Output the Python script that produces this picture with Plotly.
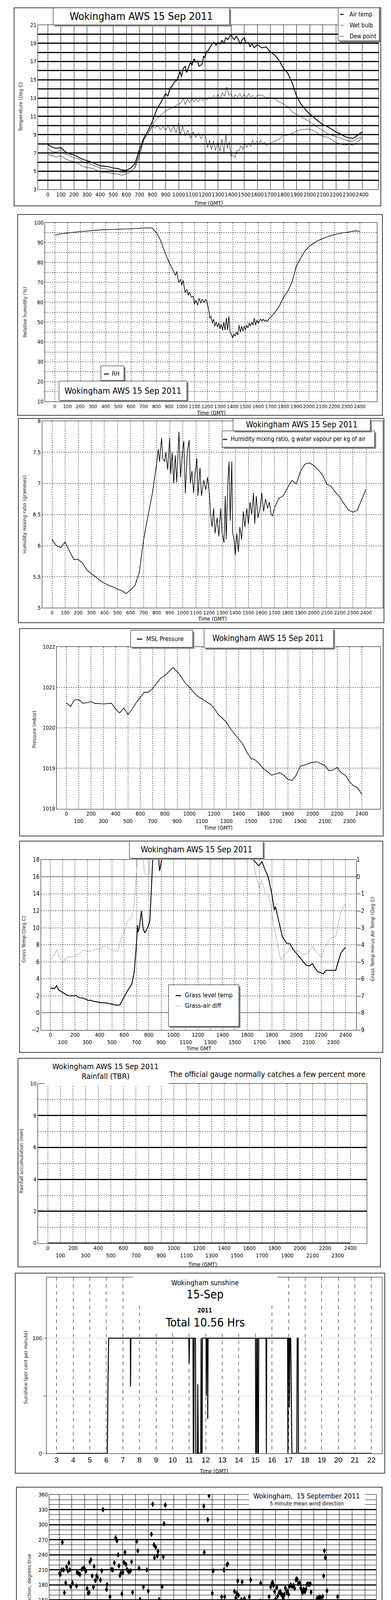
import subprocess
import plotly.graph_objects as go

W, H = 1000, 5000


def _families():
    try:
        return subprocess.run(["fc-list", ":", "family"], capture_output=True, text=True, timeout=20).stdout.lower()
    except Exception:
        return ""


_fams = _families()
NARROW, NSCALE = "Liberation Sans", 0.86
for cand in ["Liberation Sans Narrow", "Arial Narrow", "DejaVu Sans Condensed", "Roboto Condensed", "Open Sans Condensed"]:
    if cand.lower() in _fams:
        NARROW, NSCALE = cand, 1.0
        break
SANS = "Liberation Sans, Arial, sans-serif"
WIDE = "DejaVu Sans, Verdana, sans-serif"


def fs(size):
    return max(8, round(size * NSCALE))


# ------------------------------------------------------------------ data
# 20-minute readings (hour = index/3)
air_temp = [7.9,7.65,7.5,7.6,7.15,6.9,6.8,6.55,6.3,6.15,6.0,5.8,5.6,5.55,5.5,5.35,5.3,5.15,5.1,5.35,
            5.85,7.4,8.6,9.45,10.5,11.8,12.6,13.5,14.1,14.7,15.5,16.2,16.1,16.8,17.0,16.6,17.4,18.4,18.9,18.85,
            19.2,19.55,19.9,19.4,19.1,19.5,18.9,18.85,18.85,18.5,18.6,18.05,17.7,17.1,16.25,15.7,14.65,13.2,12.35,11.75,
            11.25,10.9,10.45,10.1,9.9,9.6,9.3,9.1,8.8,8.65,8.6,8.95,9.3]
wet_bulb = [7.5,7.15,7.1,7.35,6.9,6.7,6.5,6.35,6.05,5.9,5.75,5.55,5.35,5.3,5.2,5.05,5.0,4.85,4.9,5.05,
            5.5,7.0,8.45,9.15,10.1,10.75,11.2,11.6,11.85,12.05,12.35,12.7,12.6,12.9,12.75,12.7,12.9,13.05,13.15,13.2,
            13.35,13.55,13.2,13.3,13.2,13.2,13.3,13.15,13.3,13.35,13.05,13.05,12.9,12.6,12.35,12.05,11.5,11.2,10.95,10.7,
            10.4,10.1,9.75,9.45,9.15,8.95,8.8,8.65,8.45,8.3,8.3,8.6,8.75]
dew_point = [6.85,6.7,6.55,6.7,6.4,6.15,6.05,5.85,5.55,5.4,5.35,5.15,4.9,4.9,4.85,4.75,4.7,4.55,4.7,4.9,
             5.35,6.7,8.45,9.15,9.95,9.8,9.6,9.9,9.55,9.75,9.45,9.75,9.15,9.15,9.0,8.9,8.75,7.85,7.7,7.85,
             7.6,8.0,6.85,7.15,7.6,7.7,7.85,7.85,8.0,8.15,7.85,8.1,8.3,8.5,8.95,8.95,9.15,9.4,9.55,9.6,
             9.6,9.4,9.1,8.8,8.75,8.45,8.15,8.0,7.85,7.95,7.85,8.3,8.6]
# finer readings in the noisy middle of the day
air_temp_detail = [(9.17,13.2),(9.33,14.1),(9.5,14.3),(9.67,14.8),(9.83,14.9),(10.0,15.5),(10.1,15.9),(10.2,15.3),
                   (10.33,16.2),(10.5,16.5),(10.6,15.8),(10.75,16.4),(10.9,16.9),(11.0,16.6),(11.17,17.3),(11.3,16.9),
                   (11.42,17.1),(11.55,16.5),(11.7,16.6),(11.8,16.8),(11.9,17.6),(12.0,17.4),(12.1,18.1),(12.25,18.2),
                   (12.4,18.6),(12.55,18.9),(12.7,19.1),(12.85,18.8),(13.0,19.1),(13.15,18.9),(13.3,19.3),(13.45,19.0),
                   (13.6,19.6),(13.75,19.4),(13.9,19.8),(14.0,20.0),(14.1,19.6),(14.25,19.4),(14.4,19.8),(14.55,19.4),
                   (14.7,18.9),(14.85,19.4),(15.0,19.6),(15.15,19.0),(15.3,19.1),(15.45,18.6),(15.6,19.0),(15.75,18.5),
                   (15.9,18.7)]
wet_bulb_detail = [(10.17,12.5),(10.33,13.0),(10.5,12.3),(10.67,12.9),(10.83,12.5),(11.0,13.0),(11.17,12.6),(11.33,12.9),
                   (11.5,12.6),(11.67,13.0),(11.83,12.7),(12.0,12.95),(12.17,12.8),(12.33,13.1),(12.5,12.9),(12.67,13.3),
                   (12.83,13.0),(13.0,13.4),(13.17,12.9),(13.33,13.6),(13.5,13.2),(13.67,14.2),(13.83,13.3),(14.0,13.5),
                   (14.17,12.9),(14.33,13.4),(14.5,13.1),(14.67,13.5),(14.83,13.1),(15.0,13.4),(15.17,13.0),(15.33,13.5),
                   (15.5,13.1),(15.67,13.3),(15.83,13.0)]
dew_point_detail = [(8.2,9.7),(8.4,10.0),(8.6,9.55),(8.8,9.9),(9.0,9.5),(9.2,10.0),(9.4,9.3),(9.6,9.9),(9.8,9.2),
                    (10.0,10.3),(10.1,9.0),(10.3,9.9),(10.5,8.9),(10.7,9.5),(10.9,8.6),(11.1,9.3),(11.3,8.7),(11.5,9.2),
                    (11.7,8.6),(11.9,9.1),(12.1,8.6),(12.2,7.6),(12.35,8.4),(12.5,7.4),(12.65,8.3),(12.8,7.3),(13.0,8.2),
                    (13.15,7.2),(13.3,8.5),(13.45,7.0),(13.6,9.0),(13.7,7.5),(13.85,8.2),(14.0,6.6),(14.15,6.8),(14.3,6.5),
                    (14.45,7.3),(14.6,7.2),(14.75,7.8),(14.9,7.4),(15.05,8.0),(15.2,7.6),(15.35,8.1),(15.5,7.7),(15.65,8.4),
                    (15.8,7.9),(15.95,8.3),(16.1,7.9),(16.25,8.4),(16.4,8.0),(16.55,8.2),(16.7,7.8),(16.85,8.0)]
rel_humidity = [93.6,94.2,94.5,94.8,95.0,95.3,95.5,95.7,95.9,96.1,96.2,96.4,96.5,96.5,96.6,96.7,96.7,96.8,96.9,97.0,
                97.1,97.2,97.4,97.3,95.0,91.0,85.0,80.0,75.5,71.0,69.0,65.5,63.0,59.5,60.5,61.0,59.0,51.0,50.0,48.5,
                47.0,48.5,43.0,44.0,46.5,46.0,48.5,48.0,49.5,51.0,50.5,52.5,55.0,58.0,62.5,65.5,70.0,78.0,82.0,85.5,
                88.0,89.5,90.8,91.8,92.6,93.4,94.0,94.5,94.9,95.2,95.5,95.9,95.6]
rel_humidity_detail = [(9.33,75.5),(9.5,73.5),(9.6,75.5),(9.75,70),(9.9,71.5),(10.0,68.5),(10.1,71),(10.25,65),(10.4,66.5),
                       (10.5,63.5),(10.6,65),(10.75,62.5),(10.9,63),(11.0,59),(11.1,61),(11.25,58.5),(11.35,62),(11.5,59.5),
                       (11.6,61.5),(11.75,60),(11.9,61.5),(12.0,59),(12.1,57),(12.2,52),(12.3,53),(12.4,49.5),(12.5,51.5),
                       (12.6,48),(12.7,50),(12.8,47.5),(12.9,49.5),(13.0,46.5),(13.1,49),(13.2,46),(13.3,50),(13.4,46),
                       (13.5,52),(13.6,46),(13.7,53),(13.8,45),(13.9,44),(14.0,42),(14.1,44),(14.2,43),(14.3,45),(14.4,43.5),
                       (14.5,48.5),(14.6,45),(14.7,48),(14.8,45.5),(14.9,48),(15.0,46),(15.1,48.5),(15.2,47),(15.3,49.5),
                       (15.4,48),(15.5,50),(15.6,48.5),(15.7,52),(15.8,48.5),(15.9,51),(16.0,49.5),(16.1,50.5),(16.2,51.5),
                       (16.3,50.5),(16.4,51.5),(16.5,50.5),(16.6,51),(16.7,50.3),(16.8,51),(16.9,52)]
mixing_ratio = [6.10,6.0,5.97,6.06,5.91,5.78,5.78,5.72,5.61,5.55,5.50,5.44,5.40,5.36,5.34,5.30,5.28,5.23,5.29,5.36,
                5.57,6.10,6.48,6.84,7.33,7.50,7.37,7.52,7.20,7.48,7.12,7.52,7.05,7.22,6.95,7.12,6.99,6.48,6.31,6.48,
                6.18,6.74,5.97,6.14,6.42,6.52,6.61,6.48,6.74,6.63,6.78,6.61,6.76,6.80,6.93,7.05,6.99,7.20,7.31,7.33,
                7.29,7.22,7.14,6.99,6.95,6.86,6.78,6.67,6.57,6.54,6.57,6.74,6.91]
mixing_ratio_detail = [(8.12,7.55),(8.22,7.35),(8.37,7.73),(8.47,7.4),(8.6,7.35),(8.7,7.5),(8.84,7.22),(8.99,7.73),
                       (9.07,7.15),(9.18,7.5),(9.3,7.0),(9.42,7.45),(9.53,7.02),(9.7,7.83),(9.82,7.1),(9.96,7.5),
                       (10.07,7.68),(10.19,6.84),(10.34,7.5),(10.48,7.7),(10.57,7.0),(10.69,7.2),(10.82,6.85),(10.92,7.15),
                       (11.07,7.4),(11.15,6.8),(11.31,7.25),(11.42,6.8),(11.6,7.05),(11.75,6.9),(11.89,7.1),(12.04,6.8),
                       (12.12,6.5),(12.23,6.3),(12.35,6.6),(12.46,6.2),(12.62,6.45),(12.75,6.15),(12.89,6.6),(13.0,6.2),
                       (13.14,6.05),(13.24,6.8),(13.31,6.1),(13.43,7.0),(13.53,7.35),(13.62,6.4),(13.74,7.35),(13.81,6.2),
                       (13.91,6.1),(14.0,5.85),(14.12,6.2),(14.24,5.9),(14.35,6.3),(14.49,6.1),(14.62,6.55),(14.74,6.3),
                       (14.88,6.6),(15.01,6.35),(15.13,6.7),(15.26,6.5),(15.4,6.85),(15.49,6.35),(15.61,6.8),(15.74,6.45),
                       (15.9,6.6),(16.03,6.85),(16.17,6.55),(16.32,6.75),(16.48,6.6),(16.61,6.7),(16.75,6.5),(16.86,6.48),
                       (16.98,6.6)]
msl_pressure = [1020.62,1020.53,1020.69,1020.70,1020.61,1020.62,1020.65,1020.60,1020.60,1020.59,1020.60,1020.61,1020.46,1020.37,1020.49,1020.33,1020.46,1020.62,1020.75,1020.88,
                1020.88,1020.97,1021.10,1021.23,1021.29,1021.39,1021.49,1021.39,1021.26,1021.10,1021.01,1020.88,1020.78,1020.72,1020.65,1020.59,1020.49,1020.33,1020.24,1020.14,
                1019.98,1019.85,1019.72,1019.60,1019.40,1019.24,1019.21,1019.12,1018.99,1018.92,1018.83,1018.86,1018.89,1018.83,1018.73,1018.70,1018.83,1019.05,1019.08,1019.12,
                1019.15,1019.16,1019.12,1019.07,1018.94,1018.96,1019.02,1018.89,1018.83,1018.67,1018.57,1018.52,1018.36]

grass_hour = [0,0.2,0.33,0.5,0.67,0.9,1.1,1.33,1.6,1.9,2.1,2.3,2.6,2.9,3.1,3.3,3.5,3.8,4.0,4.3,4.6,4.9,5.2,5.5,5.65,
              6.0,6.35,6.62,6.82,6.99,7.08,7.13,7.23,7.4,7.54,7.68,7.95,8.09,8.2,8.35,8.6,8.8,8.87,8.95,9.08,9.5,10,11,12,13,
              14,15,16,16.5,16.8,16.97,17.2,17.4,17.7,18.0,18.2,18.3,18.45,18.7,18.85,19.2,19.5,19.7,20.0,20.3,20.55,20.8,21.06,21.3,21.5,
              21.7,22.0,22.2,22.4,22.6,23.0,23.2,23.4,23.6,23.8,24.0]
grass_temp = [2.9,2.9,2.85,3.2,2.7,2.5,2.3,2.1,2.0,2.0,2.05,1.8,1.75,1.6,1.45,1.5,1.35,1.3,1.2,1.2,1.15,1.05,0.95,0.9,0.95,
              1.9,2.8,3.4,4.9,8.0,10.3,9.5,10.0,12.0,9.9,9.4,10.2,10.9,14.5,19.0,19.5,18.2,16.7,17.2,18.5,21,22.5,24,25,25,
              24,22,19.5,18.0,17.5,17.3,17.8,17.0,16.0,14.0,12.1,12.5,11.5,10.0,9.0,8.2,8.1,7.5,7.0,6.5,6.0,5.6,5.5,5.8,5.3,
              4.9,4.7,4.6,5.0,5.0,5.0,5.0,6.0,7.0,7.4,7.7]
diff_hour = [0,0.27,0.53,0.68,0.88,1.02,1.19,1.5,1.91,2.32,2.73,3.14,3.55,3.95,4.36,4.77,5.18,5.49,5.7,6.0,
             6.31,6.62,6.82,6.99,7.07,7.34,7.54,7.64,7.81,8.01,8.11,8.5,10,12,14,16,16.52,16.66,16.97,17.17,
             17.48,17.79,17.99,18.2,18.4,18.61,18.77,19.02,19.32,19.53,19.94,20.25,20.55,20.96,21.33,21.58,22.03,22.19,22.5,22.81,
             23.22,23.42,23.63,24.0]
grass_air_diff = [-4.9,-4.65,-4.28,-4.57,-4.9,-5.1,-4.82,-4.7,-4.7,-4.53,-4.32,-4.4,-4.28,-4.24,-4.07,-4.24,-4.32,-4.4,-3.74,-3.24,
                  -2.57,-2.4,-1.58,0.09,1.0,1.5,1.0,0.25,0.09,0.17,1.0,2.5,5,5.5,5,3,1.0,0.25,-0.66,-0.25,
                  -0.91,-1.24,-2.08,-3.07,-3.65,-4.57,-4.9,-4.57,-4.4,-4.07,-4.32,-4.4,-4.57,-4.49,-4.07,-4.4,-4.74,-4.4,-3.9,-3.57,
                  -3.49,-2.66,-2.08,-1.5]

rain_hour = [0, 6, 12, 18, 24]
rain_mm = [0, 0, 0, 0, 0]

sunshine_points = [(3,0),(6.06,0),(6.1,60),(6.14,100),(7.45,100),(7.46,58),(7.48,100),(10.98,100),(11.0,78),(11.02,100),
                   (11.23,100),(11.25,0),(11.28,0),(11.3,100),(11.38,100),(11.4,0),(11.5,0),(11.52,60),(11.55,0),(11.7,0),
                   (11.72,100),(11.75,0),(11.78,0),(11.8,100),(12.02,100),(12.03,50),(12.05,100),(12.1,100),(12.12,30),(12.14,100),
                   (15.0,100),(15.02,0),(15.06,0),(15.08,100),(15.12,100),(15.14,0),(15.18,0),(15.2,100),(15.64,100),(15.66,0),
                   (15.68,100),(16.94,100),(16.96,0),(16.98,100),(17.03,100),(17.05,40),(17.08,100),(17.13,100),(17.2,0),(17.5,0),
                   (17.52,100),(17.58,100),(17.6,0),(22,0)]

wind_dir_points = [
    (0.04,203),(0.10,201),(0.20,210),(0.26,265),(0.36,210),(0.42,164.5),(0.52,184),(0.59,216),(0.69,208),(0.77,224),
    (0.85,210),(0.91,177),(1.05,184),(1.07,138),(1.17,84),(1.27,101),(1.37,178),(1.41,205),(1.53,203),(1.64,201),
    (1.78,211),(1.90,213),(1.98,213),(2.10,207),(2.20,173),(2.28,163.7),(2.36,165),(2.42,226),(2.50,230),(2.60,198),
    (2.70,175.6),(2.75,217),(2.85,189),(2.95,198),(3.01,195),(3.09,144.8),(3.19,105),(3.25,189.6),(3.35,208),(3.45,330),
    (3.51,48),(3.59,65),(3.73,171),(3.77,180.8),(3.84,85.4),(3.94,67.6),(4.00,156.4),(4.12,211),(4.22,210),(4.34,224),
    (4.44,274),(4.54,268),(4.64,240),(4.70,218),(4.78,199),(4.86,204),(4.93,162.4),(5.01,205),(5.09,225),(5.17,245),
    (5.25,221),(5.33,211),(5.43,207),(5.51,207),(5.61,208),(5.69,226),(5.77,165.2),(5.85,55.6),(5.91,75.3),(6.02,1.2),
    (6.10,267),(6.18,248),(6.28,213),(6.36,151),(6.42,122.7),(6.52,93),(6.62,175.9),(6.78,145),(6.88,210),(7.00,167.8),
    (7.09,133.9),(7.17,36.5),(7.25,281),(7.35,341),(7.45,260),(7.49,234),(7.59,255),(7.71,238),(7.77,247),(7.85,150.7),
    (7.97,93.5),(8.01,115),(8.09,177),(8.18,236),(8.24,302),(8.34,339),(8.46,7),(8.52,55.6),(8.60,101),(8.70,12),
    (8.78,58.8),(8.84,14),(8.96,91),(9.06,18),(9.12,40),(9.20,85.4),(9.25,34),(9.33,8.5),(9.45,19.4),(9.54,86.7),
    (9.61,75.9),(9.69,53),(9.76,60.6),(9.85,16.8),(9.93,126.6),(10.01,23.8),(10.09,74.6),(10.19,108.8),(10.27,3.8),(10.34,130),
    (10.42,146),(10.52,5.4),(10.60,21.2),(10.70,44.5),(10.76,25.9),(10.84,37.3),(10.90,31),(11.00,27.2),(11.10,46),(11.20,117.6),
    (11.28,77.2),(11.36,337),(11.40,245),(11.51,47.9),(11.61,40),(11.67,310),(11.77,358),(11.87,23),(11.93,109.8),(12.03,163.4),
    (12.10,208),(12.17,45.3),(12.29,107),(12.37,85),(12.45,61.4),(12.50,114.7),(12.60,98.7),(12.68,131.6),(12.76,156.4),(12.86,138.3),
    (12.94,210),(13.00,156.4),(13.08,37.5),(13.18,220),(13.24,222),(13.36,120),(13.46,108),(13.52,114),(13.60,81.6),(13.69,59.3),
    (13.77,167),(13.87,154.6),(13.95,163),(14.03,188),(14.09,159.5),(14.19,131.8),(14.31,151),(14.37,186),(14.45,138.3),(14.55,152.5),
    (14.63,144.8),(14.70,137.3),(14.78,106.4),(14.84,146.3),(14.94,156.4),(15.04,190),(15.10,127),(15.20,122.7),(15.28,110),(15.38,112.4),
    (15.42,116.5),(15.52,101),(15.62,115.8),(15.74,119.4),(15.80,147.9),(15.83,183.6),(15.95,125.3),(16.07,123),(16.13,130),(16.19,124.3),
    (16.29,113),(16.39,114.7),(16.49,156.7),(16.61,176),(16.71,183.4),(16.77,185),(16.84,179),(16.92,166.8),(17.00,151.5),(17.10,174.6),
    (17.16,157.7),(17.28,164.7),(17.36,166.8),(17.44,160.8),(17.52,160.3),(17.60,153),(17.68,161),(17.76,174),(17.86,166.3),(17.94,167.8),
    (18.01,161),(18.09,177),(18.19,180),(18.29,177),(18.41,179),(18.49,173),(18.59,190),(18.65,192),(18.69,191),(18.79,182.6),
    (18.89,184),(18.97,174),(19.04,169.4),(19.12,164.5),(19.20,171.5),(19.30,166.3),(19.38,171.5),(19.46,181),(19.54,182),(19.64,181),
    (19.72,182.3),(19.78,165.5),(19.86,136.7),(19.94,108.8),(20.02,126),(20.12,135),(20.20,148.7),(20.27,153.8),(20.35,150.5),(20.43,156),
    (20.51,155),(20.59,148.4),(20.69,157),(20.77,198),(20.83,248),(20.90,234),(21.03,168.3),(21.11,136.2),(21.19,126.6),(21.28,139.3),
    (21.36,137.8),(21.44,134.7),(21.52,130),(21.60,132),(21.68,137.8),(21.78,134),(21.86,156.7),(21.92,109.8),(22.02,98.7),(22.10,52.3),
    (22.18,45),(22.26,65),(22.36,105),(22.44,122.2),(22.51,133.6),(22.59,108.8),(22.69,96.8),(22.79,86.7),(22.87,88),(22.95,85.4),
    (23.03,80.8),(23.11,92),(23.19,97),(23.27,86),(23.35,80.8),(23.42,76.1),(23.50,83.4),(23.58,86),(23.66,79.7),(23.74,87.3),
    (23.82,89),(23.90,89.8)]

# wind speed lines, 15-minute readings (hour = index/4)
wind_mean = [8.4,0.6,0.9,1.3,1.5,1.0,1.2,1.5,1.6,1.0,0.6,0.5,0.6,0.8,0.6,0.4,0.7,0.9,1.0,0.9,
             1.1,1.2,1.9,1.4,0.3,0.6,0.8,0.5,0.2,0.7,0.9,0.5,0.3,0.5,1.1,1.4,1.6,0.9,2.2,1.5,
             2.6,1.4,1.0,2.8,1.2,3.0,0.6,2.5,1.0,3.0,3.5,1.5,3.2,2.5,1.8,3.8,2.5,4.0,3.2,3.5,
             4.8,3.5,4.2,3.3,4.0,5.0,3.4,4.4,3.8,3.2,2.5,3.0,3.6,3.3,3.0,2.6,2.5,2.9,2.5,1.6,
             1.5,2.5,3.5,2.8,0.5,0.4,1.5,2.4,1.5,2.3,2.9,2.5,2.6,3.0,3.2,2.8,2.6]
wind_gust = [2.0,1.5,1.5,2.0,1.6,1.5,2.2,2.6,3.3,1.8,1.0,1.0,1.3,1.5,1.2,1.0,1.6,1.3,1.6,1.4,
             1.6,2.0,3.8,2.0,0.8,1.6,1.8,1.2,0.8,2.0,2.0,1.2,1.0,2.0,4.0,3.0,4.8,3.0,5.5,3.2,
             5.8,3.0,4.5,6.0,3.0,6.5,3.5,6.5,3.0,7.5,5.0,8.0,4.0,8.5,5.0,9.5,6.0,9.0,5.5,8.0,
             9.8,6.0,8.0,5.0,8.5,6.0,9.0,6.0,9.0,5.0,4.0,5.0,4.5,4.0,4.2,3.5,3.0,3.5,3.0,2.2,
             2.0,3.0,4.0,3.3,1.0,1.0,3.0,4.5,2.5,4.0,4.2,3.0,4.5,5.5,4.2,5.0,3.0]
wind_x10_points = [
    (0.12,33.6),(0.15,25.1),(0.17,16.7),(0.2,15),(0.25,13.3),(0.29,11.2),(0.33,9.5),(0.37,7.4),(0.41,6.3),(0.5,7.8),
    (0.58,10.8),(0.64,11.6),(0.7,12.4),(0.77,13.7),(0.83,15.2),(0.91,17.1),(0.97,15.6),(1.02,13.3),(1.08,11.6),(1.16,9.9),
    (1.22,8.2),(1.29,7.2),(1.41,6.5),(1.47,8.6),(1.53,13.3),(1.58,17.5),(1.64,18.4),(1.7,17.1),(1.8,15.8),(1.89,15.6),
    (1.99,15.2),(2.09,19.2),(2.12,22.6),(2.18,20.9),(2.22,18.8),(2.26,13.7),(2.3,11.6),(2.36,9.9),(2.43,9.5),(2.51,7.4),
    (2.61,6.1),(2.7,5.3),(2.8,6.1),(2.92,6.5),(3.01,7.2),(3.11,8.2),(3.19,9.5),(3.24,10.3),(3.32,8.2),(3.38,6.1),
    (3.44,4.9),(3.5,3.2),(3.55,2.3),(3.61,4.0),(3.69,5.7),(3.77,7.8),(3.84,9.9),(3.92,11.6),(4.02,13.3),(4.07,11.6),
    (4.15,9.5),(4.23,8.2),(4.31,9.1),(4.4,9.5),(4.5,6.5),(4.6,9.1),(4.69,10.8),(4.79,10.3),(4.89,11.6),(4.98,9.9),
    (5.08,8.2),(5.17,11.2),(5.27,12.9),(5.37,15),(5.45,18.8),(5.5,21.7),(5.56,24.3),(5.62,20.5),(5.68,16.7),(5.74,12.4),
    (5.81,9.1),(5.89,6.1),(5.99,3.6),(6.08,1.5),(6.18,9.1),(6.28,11.2),(6.35,9.5),(6.43,6.5),(6.53,4.9),(6.62,4.0),
    (6.72,5.3),(6.82,3.6),(6.91,2.3),(7.01,8.2),(7.11,5.7),(7.2,3.2),(7.3,1.9),(7.4,4.0),(7.49,6.1),(7.59,9.1),
    (7.69,12.4),(7.74,11.2),(7.82,7.0),(7.9,4.9),(7.98,3.2),(8.07,3.6),(8.17,4.0),(8.27,6.5),(8.36,9.1),(8.46,11.6),
    (8.56,14.1),(8.63,18.4),(8.71,20.5),(8.79,22.6),(8.86,18.4),(8.94,13.3),(9.02,9.1),(9.1,15),(9.17,19.6),(9.25,24.3),
    (9.33,20.9),(9.41,15),(9.48,21.7),(9.56,23),(9.64,25.5),(9.71,25.9),(9.79,22.6),(9.87,19.6),(9.95,16.7),(10.02,11.6),
    (10.1,8.6),(10.18,14.1),(10.25,18.8),(10.33,22.6),(10.41,20.9),(10.49,15.8),(10.56,6.5),(10.64,13.3),(10.72,20.9),(10.8,23.4),
    (10.87,27.2),(10.95,32.3),(11.03,36.5),(11.1,28.5),(11.18,24.7),(11.26,19.6),(11.34,13.3),(11.41,8.2),(11.49,17.9),(11.57,22.6),
    (11.65,25.9),(11.72,31),(11.8,20.9),(11.88,17.5),(11.95,15.4),(12.03,11.6),(12.11,17.5),(12.19,31.9),(12.26,27.2),(12.34,23.4),
    (12.42,31),(12.5,34.8),(12.57,25.9),(12.65,35.2),(12.73,20.9),(12.8,28.1),(12.88,15),(12.96,32.3),(13.04,24.7),(13.11,13.3),
    (13.19,28.9),(13.27,21.7),(13.34,34),(13.42,25.1),(13.5,32.3),(13.58,36.9),(13.65,27.6),(13.73,31),(13.81,34.8),(13.89,24.7),
    (13.96,38.2),(14.06,33.5),(14.16,36.1),(14.25,28.5),(14.35,37.3),(14.45,38.8),(14.54,34),(14.64,35.7),(14.73,32.3),(14.83,35.2),
    (14.93,37.8),(15.02,33.1),(15.12,36.1),(15.22,39),(15.31,37.3),(15.41,35.2),(15.51,39.2),(15.6,36.9),(15.7,36.1),(15.8,34.8),
    (15.89,36.9),(15.99,27.2),(16.05,32.3),(16.13,39),(16.24,36.1),(16.38,34.4),(16.51,35.2),(16.61,37.3),(16.71,38.8),(16.86,39),
    (16.98,37.3),(17.11,39.4),(17.25,39),(17.34,35.7),(17.4,31.9),(17.48,27.6),(17.55,25.9),(17.61,23.8),(17.69,26.4),(17.77,21.3),
    (17.82,18.8),(17.9,27.6),(17.98,32.3),(18.06,29.3),(18.13,26.8),(18.21,23.8),(18.29,39.4),(18.37,37.3),(18.44,35.2),(18.52,33.5),
    (18.6,35.2),(18.67,30.2),(18.75,28.1),(18.83,27.2),(18.91,26.4),(18.98,27.6),(19.06,25.1),(19.14,23.8),(19.22,25.9),(19.29,28.1),
    (19.37,32.7),(19.45,31.4),(19.53,30.2),(19.6,26.8),(19.68,22.6),(19.76,19.6),(19.84,17.5),(19.91,16.2),(19.99,15.8),(20.07,16.7),
    (20.14,20),(20.22,25.9),(20.3,32.3),(20.38,35.2),(20.45,37.3),(20.53,38.2),(20.61,36.1),(20.68,33.1),(20.74,27.2),(20.78,22.2),
    (20.82,19.2),(20.86,14.1),(20.9,9.9),(20.93,5.7),(20.97,4.9),(21.03,5.7),(21.1,9.1),(21.16,13.3),(21.22,17.5),(21.28,21.7),
    (21.34,26.8),(21.4,31),(21.46,32.7),(21.52,31.4),(21.58,29.3),(21.63,26.8),(21.69,23.8),(21.75,21.7),(21.8,19.2),(21.86,15),
    (21.92,12),(22.0,10.8),(22.07,15.4),(22.15,20),(22.22,24.7),(22.3,28.9),(22.38,23),(22.46,19.6),(22.54,16.7),(22.61,20.5),
    (22.69,25.1),(22.77,27.6),(22.85,28.1),(22.92,25.9),(23.0,22.6),(23.08,25.9),(23.15,28.9),(23.23,30.2),(23.31,33.5),(23.38,35.2),
    (23.46,36.1),(23.54,34.4),(23.62,32.3),(23.69,31),(23.77,28.1),(23.85,26.4),(23.93,25.1),(24.0,25.9)]

HOURS = list(range(25))
t20 = [i / 3 for i in range(len(air_temp))]
t15 = [i / 4 for i in range(len(wind_mean))]


def merged(base, lo, hi, detail):
    """20-minute readings outside (lo, hi) plus the finer readings inside it."""
    pts = [(t, v) for t, v in zip(t20, base) if not (lo < t < hi)] + list(detail)
    pts.sort()
    return [p[0] for p in pts], [p[1] for p in pts]


air_x, air_y = merged(air_temp, 9.0, 16.0, air_temp_detail)
wet_x, wet_y = merged(wet_bulb, 10.0, 16.0, wet_bulb_detail)
dew_x, dew_y = merged(dew_point, 8.0, 17.0, dew_point_detail)
rh_x, rh_y = merged(rel_humidity, 9.0, 17.0, rel_humidity_detail)
mr_x, mr_y = merged(mixing_ratio, 8.0, 17.0, mixing_ratio_detail)

# ------------------------------------------------------------------ helpers
shapes, anns = [], []


def xdom(x0, x1):
    return [x0 / W, x1 / W]


def ydom(y0, y1):
    return [1 - y1 / H, 1 - y0 / H]


def T(x, y, s, size, family=None, xa="center", ya="middle", color="black", angle=0):
    fam = family if family else NARROW
    sz = fs(size) if family is None else size
    anns.append(dict(x=x / W, y=1 - y / H, xref="paper", yref="paper", text=s, showarrow=False,
                     font=dict(family=fam, size=sz, color=color), xanchor=xa, yanchor=ya,
                     textangle=angle))


def R(x0, y0, x1, y1, fill=None, lw=1.0, color="black", layer="above"):
    shapes.append(dict(type="rect", xref="paper", yref="paper", x0=x0 / W, x1=x1 / W,
                       y0=1 - y1 / H, y1=1 - y0 / H,
                       line=dict(color=color, width=lw) if lw else dict(width=0),
                       fillcolor=fill if fill else "rgba(0,0,0,0)", layer=layer))


def L(x0, y0, x1, y1, color="black", w=1.0):
    shapes.append(dict(type="line", xref="paper", yref="paper", x0=x0 / W, x1=x1 / W,
                       y0=1 - y0 / H, y1=1 - y1 / H, line=dict(color=color, width=w), layer="above"))


def boxed(x0, y0, x1, y1):
    R(x0 + 4, y0 + 4, x1 + 4, y1 + 4, fill="#8a8a8a", lw=0)
    R(x0, y0, x1, y1, fill="white", lw=1)


def hund(two_rows):
    out = []
    for h in HOURS:
        s = str(h * 100)
        out.append("<br>" + s if (two_rows and h % 2) else s)
    return out


def tf(size, family=None):
    return dict(family=family if family else NARROW, size=fs(size) if family is None else size, color="black")


BASE = dict(showline=True, linecolor="black", linewidth=1, mirror=True, ticks="", zeroline=False,
            tickangle=0, tickfont=tf(14))

fig = go.Figure()
lay = {}

# ------------------------------------------------------------------ panel 1 temperatures
R(28, 3, 966, 512, lw=1.5, layer="below")
lay["xaxis"] = dict(BASE, domain=xdom(89, 960), range=[-0.75, 25.25], anchor="y", tickmode="array",
                    tickvals=HOURS, ticktext=hund(False), showgrid=True, gridcolor="black", gridwidth=1)
lay["yaxis"] = dict(BASE, domain=ydom(47, 470), range=[3, 21], anchor="x", tick0=3, dtick=2,
                    showgrid=True, gridcolor="black", gridwidth=3,
                    minor=dict(tick0=3, dtick=1, showgrid=True, gridcolor="black", gridwidth=3))
fig.add_trace(go.Scatter(x=air_x, y=air_y, xaxis="x", yaxis="y", mode="lines", line=dict(color="black", width=2.2)))
fig.add_trace(go.Scatter(x=wet_x, y=wet_y, xaxis="x", yaxis="y", mode="lines", line=dict(color="black", width=1)))
fig.add_trace(go.Scatter(x=dew_x, y=dew_y, xaxis="x", yaxis="y", mode="lines", line=dict(color="black", width=1)))
boxed(128, 3, 579, 47)
T(353, 25, "Wokingham AWS 15 Sep 2011", 27)
boxed(857, 3, 962, 88)
L(862, 20, 871, 20, w=2.5)
L(862, 48, 871, 48)
L(862, 76, 871, 76)
T(884, 20, "Air temp", 15, xa="left")
T(884, 48, "Wet bulb", 15, xa="left")
T(884, 76, "Dew point", 15, xa="left")
T(45, 258, "Temperature (Deg C)", 12, family=WIDE, angle=-90, color="#222")
T(525, 505, "Time (GMT)", 14)

# ------------------------------------------------------------------ panel 2 RH
R(37, 534, 970, 1050, lw=1.5, layer="below")
lay["xaxis2"] = dict(BASE, domain=xdom(107, 956), range=[-0.77, 25.35], anchor="y2", tickmode="array",
                     tickvals=HOURS, ticktext=hund(False), showgrid=True, gridcolor="black", griddash="dot",
                     tickfont=tf(13))
lay["yaxis2"] = dict(BASE, domain=ydom(555, 1015), range=[10, 100], anchor="x2", tick0=10, dtick=10,
                     showgrid=True, gridcolor="black", griddash="dot",
                     minor=dict(tick0=10, dtick=5, showgrid=True, gridcolor="black", griddash="dot"))
fig.add_trace(go.Scatter(x=rh_x, y=rh_y, xaxis="x2", yaxis="y2", mode="lines", line=dict(color="black", width=1.6)))
boxed(250, 923, 309, 961)
L(258, 944, 270, 944, w=2.5)
T(276, 943, "RH", 15, xa="left")
boxed(143, 962, 470, 1012)
T(306, 987, "Wokingham AWS 15 Sep 2011", 22)
T(56, 785, "Relative humidity (%)", 12, family=WIDE, angle=-90, color="#222")
T(532, 1044, "Time (GMT)", 14)

# ------------------------------------------------------------------ panel 3 mixing ratio
R(39, 1058, 974, 1583, lw=1.5, layer="below")
lay["xaxis3"] = dict(BASE, domain=xdom(100, 971), range=[-0.75, 25.28], anchor="y3", tickmode="array",
                     tickvals=HOURS, ticktext=hund(False), showgrid=True, gridcolor="black", griddash="dot",
                     tickfont=tf(13))
lay["yaxis3"] = dict(BASE, domain=ydom(1065, 1545), range=[5, 8], anchor="x3", tick0=5, dtick=0.5,
                     showgrid=True, gridcolor="black", griddash="dot")
fig.add_trace(go.Scatter(x=mr_x, y=mr_y, xaxis="x3", yaxis="y3", mode="lines", line=dict(color="black", width=1.6)))
boxed(560, 1090, 950, 1132)
L(562, 1112, 573, 1112, w=2.5)
T(580, 1111, "Humidity mixing ratio, g water vapour per kg of air", 15, xa="left")
boxed(588, 1058, 939, 1090)
T(763, 1074, "Wokingham AWS 15 Sep 2011", 21)
T(55, 1305, "Humidity mixing ratio (grammes)", 12, family=WIDE, angle=-90, color="#222")
T(535, 1573, "Time (GMT)", 14)

# ------------------------------------------------------------------ panel 4 pressure
R(42, 1598, 972, 2131, lw=1.5, layer="below")
lay["xaxis4"] = dict(BASE, domain=xdom(137, 965), range=[-0.79, 25.52], anchor="y4", tickmode="array",
                     tickvals=HOURS, ticktext=hund(True), showgrid=True, gridcolor="black", griddash="dot")
lay["yaxis4"] = dict(BASE, domain=ydom(1645, 2061), range=[1018, 1022], anchor="x4", tick0=1018, dtick=1,
                     showgrid=True, gridcolor="black", griddash="dot")
fig.add_trace(go.Scatter(x=t20, y=msl_pressure, xaxis="x4", yaxis="y4", mode="lines", line=dict(color="black", width=1.6)))
boxed(326, 1602, 485, 1646)
L(342, 1625, 356, 1625, w=2.5)
T(364, 1624, "MSL Pressure", 16, xa="left")
boxed(514, 1598, 845, 1648)
T(677, 1623, "Wokingham AWS 15 Sep 2011", 21)
T(80, 1857, "Pressure (mbar)", 12, family=WIDE, angle=-90, color="#222")
T(550, 2110, "Time (GMT)", 14)

# ------------------------------------------------------------------ panel 5 grass temp
R(42, 2144, 971, 2687, lw=1.5, layer="below")
lay["xaxis5"] = dict(BASE, domain=xdom(97, 903), range=[-0.76, 24.86], anchor="y5", tickmode="array",
                     tickvals=HOURS, ticktext=hund(True), showgrid=True, gridcolor="black", griddash="dot")
lay["yaxis5"] = dict(BASE, domain=ydom(2192, 2629), range=[-2, 18], anchor="x5", tick0=0, dtick=2,
                     showgrid=True, gridcolor="black", griddash="dot", zeroline=True, zerolinecolor="black",
                     zerolinewidth=1, tickfont=tf(15))
lay["yaxis10"] = dict(domain=ydom(2192, 2629), range=[-9, 1], anchor="x5", overlaying="y5", side="right",
                      tick0=0, dtick=1, showgrid=False, showline=False, ticks="", zeroline=True,
                      zerolinecolor="black", zerolinewidth=1, tickfont=tf(15))
fig.add_trace(go.Scatter(x=diff_hour, y=grass_air_diff, xaxis="x5", yaxis="y10", mode="lines", line=dict(color="#8c8c8c", width=1)))
fig.add_trace(go.Scatter(x=grass_hour, y=grass_temp, xaxis="x5", yaxis="y5", mode="lines", line=dict(color="black", width=2.2)))
boxed(323, 2144, 665, 2188)
T(494, 2166, "Wokingham AWS 15 Sep 2011", 21)
boxed(423, 2513, 603, 2620)
L(441, 2541, 455, 2541, w=2.5)
L(441, 2568, 455, 2568, color="#8c8c8c")
T(463, 2540, "Grass level temp", 16, xa="left")
T(463, 2567, "Grass-air diff", 16, xa="left")
T(53, 2396, "Grass Temp (Deg C)", 12, family=WIDE, angle=-90, color="#222")
T(945, 2396, "Grass Temp minus Air Temp (Deg C)", 12, family=WIDE, angle=-90, color="#222")
T(500, 2677, "Time GMT", 14)

# ------------------------------------------------------------------ panel 6 rainfall
R(38, 2702, 965, 3238, lw=1.5, layer="below")
lay["xaxis6"] = dict(BASE, domain=xdom(89, 930), range=[-0.78, 25.3], anchor="y6", tickmode="array",
                     tickvals=HOURS, ticktext=hund(True), showgrid=True, gridcolor="black", griddash="dot")
lay["yaxis6"] = dict(BASE, domain=ydom(2767, 3177), range=[0, 10], anchor="x6", tick0=0, dtick=2,
                     showgrid=True, gridcolor="black", gridwidth=3,
                     minor=dict(tick0=0, dtick=1, showgrid=True, gridcolor="black", griddash="dot", gridwidth=1))
fig.add_trace(go.Scatter(x=rain_hour, y=rain_mm, xaxis="x6", yaxis="y6", mode="lines", line=dict(color="black", width=3.5)))
R(106, 2760, 423, 2771, fill="white", lw=0)
T(262, 2723, "Wokingham AWS 15 Sep 2011", 20)
T(262, 2748, "Rainfall (TBR)", 20)
T(675, 2743, "The official gauge normally catches a few percent more", 20)
T(47, 2966, "Rainfall accumulation (mm)", 12, family=WIDE, angle=-90, color="#222")
T(510, 3232, "Time (GMT)", 14)

# ------------------------------------------------------------------ panel 7 sunshine
R(31, 3254, 976, 3768, lw=1.5, layer="below")
sun_hour = [p[0] for p in sunshine_points]
sun_pct = [p[1] for p in sunshine_points]
lay["xaxis7"] = dict(BASE, domain=xdom(111, 969), range=[2.39, 22.64], anchor="y7", tickmode="array",
                     tickvals=list(range(3, 23)), showgrid=True, gridcolor="black", griddash="dash",
                     tickfont=dict(family=SANS, size=19, color="black"))
lay["yaxis7"] = dict(BASE, domain=ydom(3265, 3717), range=[0, 152.7], anchor="x7", tickmode="array",
                     tickvals=[0, 50, 100], ticktext=["0", "", "100"], ticks="outside", ticklen=8,
                     showgrid=True, gridcolor="#a0a0a0", griddash="dot")
fig.add_trace(go.Scatter(x=sun_hour, y=sun_pct, xaxis="x7", yaxis="y7", mode="lines", line=dict(color="black", width=2.5)))
R(332, 3262, 701, 3330, fill="white", lw=0)
R(351, 3330, 685, 3408, fill="white", lw=0)
T(516, 3278, "Wokingham sunshine", 18)
T(516, 3308, "15-Sep", 30)
T(516, 3350, "<b>2011</b>", 15)
T(516, 3381, "Total 10.56 Hrs", 30)
T(58, 3496, "Sunshine (per cent per minute)", 12, family=WIDE, angle=-90, color="#222")
T(539, 3763, "Time (GMT)", 14)

# ------------------------------------------------------------------ panel 8 wind direction
R(34, 3804, 969, 4337, lw=1.5, layer="below")
lay["xaxis8"] = dict(BASE, domain=xdom(118, 954), range=[-0.77, 24.89], anchor="y8", tickmode="array",
                     tickvals=HOURS, showgrid=True, gridcolor="black", gridwidth=1)
lay["yaxis8"] = dict(BASE, domain=ydom(3823, 4287), range=[0, 360], anchor="x8", tick0=0, dtick=30,
                     showgrid=True, gridcolor="black", gridwidth=3,
                     minor=dict(tick0=0, dtick=10, showgrid=True, gridcolor="black", gridwidth=1))
fig.add_trace(go.Scatter(x=[p[0] for p in wind_dir_points], y=[p[1] for p in wind_dir_points],
                         xaxis="x8", yaxis="y8", mode="markers",
                         marker=dict(symbol="diamond-tall", size=11, color="black")))
R(629, 3816, 926, 3858, fill="white", lw=0)
T(776, 3826, "Wokingham,&nbsp; 15 September 2011", 18)
T(776, 3846, "5 minute mean wind direction", 14)
T(67, 4045, "Direction, degrees true", 12, family=WIDE, angle=-90, color="#222")
T(535, 4324, "Time (GMT)", 15)

# ------------------------------------------------------------------ panel 9 wind speed
R(31, 4345, 969, 4866, lw=1.5, layer="below")
clock = []
for h in HOURS[:24]:
    s = "%02d:00" % h
    clock.append("<br>" + s if h % 2 else s)
lay["xaxis9"] = dict(BASE, domain=xdom(89, 948), range=[-0.75, 24.95], anchor="y9", tickmode="array",
                     tickvals=HOURS[:24], ticktext=clock, showgrid=True, gridcolor="black", griddash="dot",
                     tickfont=tf(13))
lay["yaxis9"] = dict(BASE, domain=ydom(4395, 4790), range=[0, 50], anchor="x9", tick0=0, dtick=10,
                     showgrid=True, gridcolor="black", griddash="dot",
                     minor=dict(tick0=0, dtick=5, showgrid=True, gridcolor="black", griddash="dot"))
fig.add_trace(go.Scatter(x=[p[0] for p in wind_x10_points], y=[p[1] for p in wind_x10_points],
                         xaxis="x9", yaxis="y9", mode="markers",
                         marker=dict(symbol="diamond", size=9, color="#cfcfcf", line=dict(color="black", width=0.8))))
fig.add_trace(go.Scatter(x=t15, y=wind_gust, xaxis="x9", yaxis="y9", mode="lines", line=dict(color="#454545", width=1)))
fig.add_trace(go.Scatter(x=t15, y=wind_mean, xaxis="x9", yaxis="y9", mode="lines", line=dict(color="black", width=1.8)))
R(91, 4391, 439, 4399, fill="white", lw=0)
T(265, 4374, "Wokingham,&nbsp; 15 September 2011", 22)
T(581, 4363, "Wind speed, 10 min mean / max gust", 15)
T(581, 4382, "Speeds below 4 kt shown at x10 scale", 15)
boxed(737, 4355, 962, 4383)
L(770, 4370, 781, 4370, w=2.5)
T(789, 4369, "Speed x 1", 13, xa="left")
dx, dy = 4 / W, 5 / H
cx, cy = 863 / W, 1 - 4369 / H
shapes.append(dict(type="path", xref="paper", yref="paper",
                   path="M %f,%f L %f,%f L %f,%f L %f,%f Z" % (cx, cy + dy, cx + dx, cy, cx, cy - dy, cx - dx, cy),
                   fillcolor="#cfcfcf", line=dict(color="black", width=0.8), layer="above"))
T(873, 4369, "Speed / 10", 13, xa="left")
T(961, 4790, "0", 14)
T(45, 4588, "Speed (knots)", 12, family=WIDE, angle=-90, color="#222")
T(518, 4843, "Time (GMT)", 15)

fig.update_layout(width=W, height=H, margin=dict(l=0, r=0, t=0, b=0), showlegend=False,
                  paper_bgcolor="white", plot_bgcolor="white", shapes=shapes, annotations=anns, **lay)
fig.write_html("out.html")
